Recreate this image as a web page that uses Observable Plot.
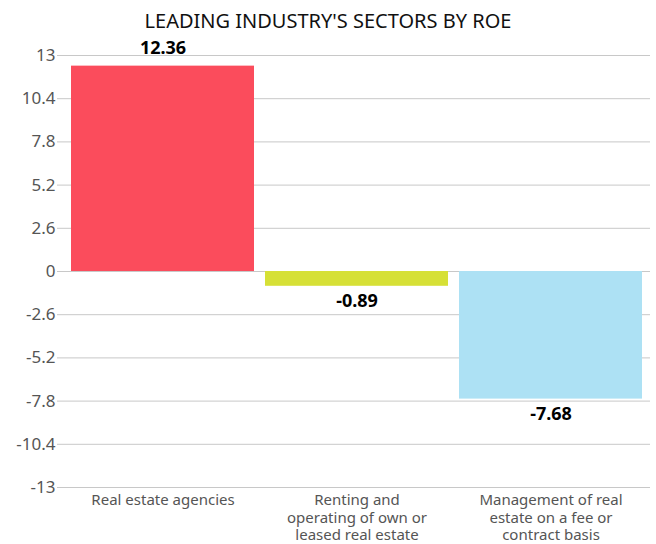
<!DOCTYPE html>
<html>
<head>
<meta charset="utf-8">
<script src="https://cdn.jsdelivr.net/npm/d3@7"></script>
<script src="https://cdn.jsdelivr.net/npm/@observablehq/plot@0.6"></script>
<style>
  body { margin: 0; background: #fff; font-family: "Noto Sans", sans-serif; }
  #title { height: 30px; box-sizing: border-box; padding-top: 11px; line-height: 1; text-align: center; font-size: 20px; color: #111; white-space: nowrap; }
  #chart svg { display: block; }
</style>
</head>
<body>
<div id="title">LEADING INDUSTRY'S SECTORS BY ROE</div>
<div id="chart"></div>
<script>
const categories = ["Real estate agencies", "Renting and operating of own or leased real estate", "Management of real estate on a fee or contract basis"];
const wrapped = ["Real estate agencies", "Renting and\noperating of own or\nleased real estate", "Management of real\nestate on a fee or\ncontract basis"];
const values = [12.36, -0.89, -7.68];
const colors = ["#fb4c5c", "#d6e036", "#ade1f4"];
const yTicks = [13, 10.4, 7.8, 5.2, 2.6, 0, -2.6, -5.2, -7.8, -10.4, -13];

const data = categories.map((c, i) => ({cat: c, value: values[i], color: colors[i]}));

const chart = Plot.plot({
  width: 656,
  height: 514,
  marginTop: 25,
  marginBottom: 57,
  marginLeft: 63,
  marginRight: 6,
  style: {fontFamily: "Noto Sans, sans-serif", background: "#fff", overflow: "visible"},
  x: {domain: categories, paddingInner: 0.057, paddingOuter: 0.04, label: null},
  y: {domain: [-13, 13], label: null},
  marks: [
    Plot.ruleY(yTicks, {stroke: "#c8c8c8", strokeWidth: 1}),
    Plot.barY(data, {x: "cat", y: "value", fill: "color"}),
    Plot.axisY({ticks: yTicks, tickFormat: d => String(d), tickSize: 6, tickPadding: 2, stroke: "#c8c8c8", fill: "#555", fontSize: 17, label: null}),
    Plot.axisX({tickSize: 0, tickPadding: 5, tickFormat: d => wrapped[categories.indexOf(d)], fill: "#555", fontSize: 15, lineHeight: 1.17, label: null}),
    Plot.text(data.filter(d => d.value >= 0), {x: "cat", y: "value", text: d => d.value.toFixed(2), dy: -18, fontSize: 18, fontWeight: "bold", fill: "#000"}),
    Plot.text(data.filter(d => d.value < 0), {x: "cat", y: "value", text: d => d.value.toFixed(2), dy: 15, fontSize: 18, fontWeight: "bold", fill: "#000"})
  ]
});
document.getElementById("chart").appendChild(chart);
</script>
</body>
</html>
